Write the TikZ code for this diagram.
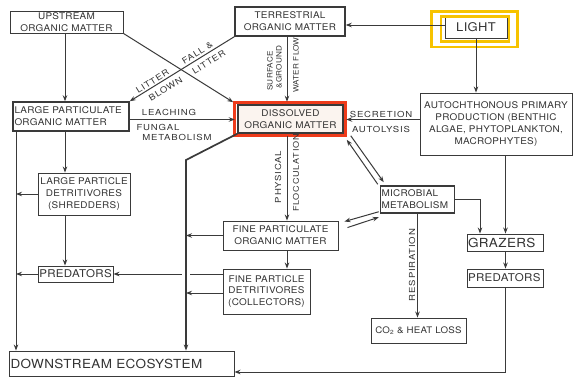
\documentclass[tikz,border=0pt]{standalone}
\usepackage{fontspec}
\setmainfont[FakeStretch=1.08, LetterSpace=3]{TeX Gyre Heros}
\newfontfamily\lblfont[FakeStretch=1.15, LetterSpace=10]{TeX Gyre Heros}
\newfontfamily\vlblfont[FakeStretch=1.1, LetterSpace=3]{TeX Gyre Heros}
\usetikzlibrary{arrows.meta,calc}
\definecolor{ln}{HTML}{3A3A3A}
\definecolor{tx}{HTML}{333333}
\definecolor{redb}{HTML}{EE3B1B}
\definecolor{yel}{HTML}{F7C300}
\definecolor{domfill}{HTML}{FBF4EF}
\begin{document}
\begin{tikzpicture}[x=1pt,y=-1pt,
  box/.style={draw=ln, line width=0.9pt, inner sep=1.5pt, text=tx,
    font=\fontsize{9.2}{11.8}\selectfont, align=center},
  bbox/.style={box, line width=1.5pt},
  big/.style={font=\fontsize{12.5}{14}\selectfont},
  mid/.style={font=\fontsize{10.7}{12}\selectfont},
  arr/.style={draw=ln, line width=1pt, -{Stealth[length=6pt,width=4.5pt]}},
  toRed/.style={shorten >=2.5pt},
  lbl/.style={text=tx, inner sep=0pt, font=\lblfont\fontsize{8.3}{10}\selectfont, align=left},
  vlbl/.style={text=tx, inner sep=0pt, font=\vlblfont\fontsize{7.4}{9}\selectfont, rotate=90}]
\fill[white] (0,0) rectangle (574,383);
\useasboundingbox (0,0) rectangle (574,383);

% boxes
\node[box, minimum width=113pt, minimum height=22pt] (up) at (66.5,22) {UPSTREAM\\ORGANIC MATTER};
\node[bbox, minimum width=110pt, minimum height=29pt] (terr) at (290,21.5) {TERRESTRIAL\\ORGANIC MATTER};
\node[box, big, font=\fontsize{12}{14}\selectfont, minimum width=62pt, minimum height=21pt, inner sep=0pt] (light) at (476,27.5) {LIGHT};
\node[box, minimum width=152pt, minimum height=62pt] (auto) at (496,124) {AUTOCHTHONOUS PRIMARY\\PRODUCTION (BENTHIC\\ALGAE, PHYTOPLANKTON,\\MACROPHYTES)};
\node[bbox, align=left, text width=113pt, minimum height=29pt] (lpom) at (71,116.5) {LARGE PARTICULATE\\ORGANIC MATTER};
\node[bbox, fill=domfill, minimum width=105pt, minimum height=28pt] (dom) at (290.5,119) {DISSOLVED\\ORGANIC MATTER};
\node[box, minimum width=92pt, minimum height=42pt] (shred) at (84,194) {LARGE PARTICLE\\DETRITIVORES\\(SHREDDERS)};
\node[box, mid, minimum width=75pt, minimum height=16pt, inner sep=0pt] (predL) at (75.5,274) {PREDATORS};
\node[box, minimum width=115pt, minimum height=29pt] (fpom) at (280.5,235.5) {FINE PARTICULATE\\ORGANIC MATTER};
\node[box, minimum width=87pt, minimum height=45pt] (coll) at (266.5,291.5) {FINE PARTICLE\\DETRITIVORES\\(COLLECTORS)};
\node[bbox, align=left, text width=72pt, minimum height=27pt, inner sep=1pt] (micro) at (417.5,199.5) {MICROBIAL\\METABOLISM};
\node[box, big, align=left, text width=75pt, minimum height=17pt, inner sep=0.5pt] (graz) at (505.5,242.5) {GRAZERS};
\node[box, mid, align=left, text width=75pt, minimum height=18pt, inner sep=0.5pt] (predR) at (505.5,278) {PREDATORS};
\node[box, font=\fontsize{9}{11}\selectfont, minimum width=95pt, minimum height=25pt, inner sep=0.5pt] (co2) at (418.5,330.5) {CO\textsubscript{2} \& HEAT LOSS};
\node[box, big, align=left, text width=222pt, minimum height=25pt] (down) at (121.5,363.5) {DOWNSTREAM ECOSYSTEM};

% highlights
\draw[redb, line width=2.6pt] ($(dom.north west)+(-3,-2)$) rectangle ($(dom.south east)+(2,2)$);
\draw[yel, line width=2.8pt] (431.5,11.5) rectangle (517.5,47);
\draw[yel, line width=2.8pt] (441,16.5) rectangle (509,41.5);

% helper coordinates
\coordinate (xa) at (65,0);
\coordinate (xl) at (16,0);
\coordinate (xm) at (186,0);
\coordinate (xd) at (287,0);
\coordinate (xg) at (480,0);
\coordinate (kink) at (186,160);
\coordinate (yl) at (0,25);
\coordinate (ys) at (0,119.5);
\coordinate (yb) at (0,372);

% connectors
\draw[arr] (xa |- up.south) -- (xa |- lpom.north);
\draw[arr] (up.south east) -- ($(dom.north west)+(-4,-2)$);
\draw[arr] (terr.south west) -- (lpom.north east);
\draw[arr,toRed] (xd |- terr.south) -- (xd |- dom.north);
\draw[arr] (light.west |- yl) -- (terr.east |- yl);
\draw[arr] (light.south) -- (light.south |- auto.north);
\draw[arr,toRed] (auto.west |- ys) -- (dom.east |- ys);
\draw[arr,toRed] (lpom.east |- ys) -- (dom.west |- ys);
\draw[arr] (xa |- lpom.south) -- (xa |- shred.north);
\draw[arr] (xa |- shred.south) -- (xa |- predL.north);
\draw[arr] ($(xl |- lpom.south)+(0,-0.5)$) -- (xl |- down.north);
\draw[arr] (shred.west) -- (shred.west -| xl);
\draw[arr] (predL.west) -- (predL.west -| xl);
\draw[arr] (coll.west |- predL.east) -- (predL.east);
\fill[white] ($(xm |- predL.east)+(-4,-2)$) rectangle ($(xm |- predL.east)+(4,2)$);
\draw[arr, line width=1.7pt] (dom.south west) -- (kink) -- (kink |- down.north);
\draw[arr] (fpom.west) -- (fpom.west -| xm);
\draw[arr] ($(coll.west)+(0,1.5)$) -- ($(coll.west -| xm)+(0,1.5)$);
\draw[arr] ($(xd |- dom.south)+(0,2)$) -- (xd |- fpom.north);
\draw[arr] (xd |- fpom.south) -- (xd |- coll.north);
\draw[arr] ($(dom.south east)+(7,2)$) -- ($(micro.north west)+(4,-3)$);
\draw[arr] ($(micro.north west)+(-2,-1)$) -- ($(dom.south east)+(3,6)$);
\draw[arr] ($(micro.south west)+(-1,-2)$) -- ($(fpom.north east)+(6,1)$);
\draw[arr] ($(fpom.north east)+(9,7)$) -- ($(micro.south west)+(-1,3.5)$);
\draw[arr] (micro.east) -| (xg |- graz.north);
\draw[arr] (graz.north |- auto.south) -- (graz.north);
\draw[arr] (graz.south) -- (predR.north);
\draw[arr] (micro.south) -- (micro.south |- co2.north);
\draw[arr] (predR.south) |- (down.east |- yb);

% labels
\node[lbl, rotate=32] (l1) at (152.5,81.3) {LITTER};
\node[lbl, rotate=32] (l2) at (197.4,53.1) {FALL \&};
\node[lbl, rotate=32] (l3) at (165.6,89.1) {BLOWN};
\node[lbl, rotate=32] (l4) at (208.8,62) {LITTER};
\node[vlbl] (l5) at (270,71) {SURFACE};
\node[vlbl] (l6) at (279,67) {\&GROUND};
\node[vlbl] (l7) at (296,65) {WATER FLOW};
\node[lbl] (l8) at (169,112) {LEACHING};
\node[lbl] (l9) at (158,127) {FUNGAL};
\node[lbl] (l10) at (177,137) {METABOLISM};
\node[lbl] (l11) at (381,114) {SECRETION};
\node[lbl] (l12) at (381,129) {AUTOLYSIS};
\node[lbl, rotate=90] (l13) at (278,177) {PHYSICAL};
\node[lbl, rotate=90, font=\lblfont\fontsize{7.9}{10}\selectfont] (l14) at (296,173) {FLOCCULATION};
\node[lbl, rotate=90] (l15) at (412,265) {RESPIRATION};
\end{tikzpicture}
\end{document}
